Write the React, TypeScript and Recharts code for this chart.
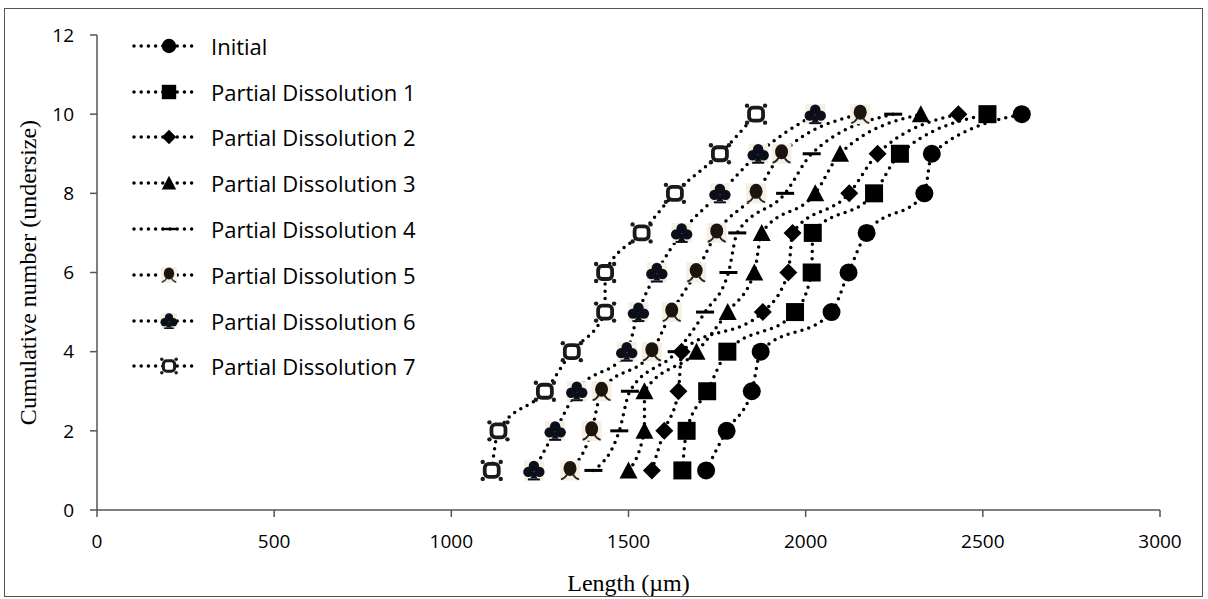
import { LineChart, Line, XAxis, YAxis } from 'recharts';

// cumulative number (undersize) – same for every run
const counts = [1, 2, 3, 4, 5, 6, 7, 8, 9, 10];

// crystal length (µm), one array per run
const initial = [1719, 1777, 1848, 1873, 2073, 2121, 2172, 2335, 2356, 2610];
const partial1 = [1652, 1664, 1722, 1779, 1970, 2017, 2020, 2193, 2266, 2513];
const partial2 = [1566, 1601, 1641, 1650, 1879, 1951, 1963, 2123, 2203, 2431];
const partial3 = [1500, 1545, 1545, 1692, 1780, 1855, 1876, 2027, 2097, 2325];
const partial4 = [1401, 1474, 1504, 1636, 1716, 1782, 1807, 1942, 2017, 2247];
const partial5 = [1335, 1396, 1424, 1566, 1622, 1691, 1749, 1860, 1932, 2154];
const partial6 = [1233, 1293, 1354, 1495, 1528, 1580, 1650, 1758, 1866, 2027];
const partial7 = [1114, 1133, 1264, 1340, 1434, 1434, 1537, 1631, 1758, 1860];

const xTicks = [0, 500, 1000, 1500, 2000, 2500, 3000];
const yTicks = [0, 2, 4, 6, 8, 10, 12];

type Kind = 'circle' | 'square' | 'diamond' | 'triangle' | 'dash' | 'person' | 'club' | 'curr';

const series: { name: string; kind: Kind; values: number[] }[] = [
  { name: 'Initial', kind: 'circle', values: initial },
  { name: 'Partial Dissolution 1', kind: 'square', values: partial1 },
  { name: 'Partial Dissolution 2', kind: 'diamond', values: partial2 },
  { name: 'Partial Dissolution 3', kind: 'triangle', values: partial3 },
  { name: 'Partial Dissolution 4', kind: 'dash', values: partial4 },
  { name: 'Partial Dissolution 5', kind: 'person', values: partial5 },
  { name: 'Partial Dissolution 6', kind: 'club', values: partial6 },
  { name: 'Partial Dissolution 7', kind: 'curr', values: partial7 },
];

const toPoints = (vals: number[]) => vals.map((v, i) => ({ x: v, y: counts[i] }));

function Marker({ kind, cx, cy, s = 1 }: { kind: Kind; cx: number; cy: number; s?: number }) {
  const k = s;
  switch (kind) {
    case 'circle':
      return <circle cx={cx} cy={cy} r={9 * k} fill="#000" />;
    case 'square':
      return <rect x={cx - 9 * k} y={cy - 9 * k} width={18 * k} height={18 * k} fill="#000" />;
    case 'diamond':
      return (
        <path
          d={`M${cx},${cy - 9 * k} L${cx + 9 * k},${cy} L${cx},${cy + 9 * k} L${cx - 9 * k},${cy} Z`}
          fill="#000"
        />
      );
    case 'triangle':
      return (
        <path
          d={`M${cx},${cy - 9 * k} L${cx + 9 * k},${cy + 8 * k} L${cx - 9 * k},${cy + 8 * k} Z`}
          fill="#000"
        />
      );
    case 'dash':
      return <rect x={cx - 9 * k} y={cy - 1.5 * k} width={18 * k} height={3 * k} fill="#000" />;
    case 'person':
      return (
        <g style={{ filter: 'blur(0.6px)' }}>
          <rect x={cx - 10 * k} y={cy - 10 * k} width={20 * k} height={20 * k} fill="#f6efe4" />
          <ellipse cx={cx} cy={cy - 2 * k} rx={6.5 * k} ry={7.5 * k} fill="#1c140e" />
          <path
            d={`M${cx - 3 * k},${cy + 4 * k} Q${cx - 5 * k},${cy + 8 * k} ${cx - 9 * k},${cy + 9 * k} M${cx + 3 * k},${cy + 4 * k} Q${cx + 5 * k},${cy + 8 * k} ${cx + 9 * k},${cy + 9 * k}`}
            stroke="#2a2420"
            strokeWidth={1.8 * k}
            fill="none"
          />
        </g>
      );
    case 'club':
      return (
        <g style={{ filter: 'blur(0.5px)' }}>
          <rect x={cx - 10 * k} y={cy - 10 * k} width={20 * k} height={20 * k} fill="#f6efe4" />
          <circle cx={cx} cy={cy - 4.5 * k} r={5.2 * k} fill="#0b0f1a" />
          <circle cx={cx - 5.5 * k} cy={cy + 1.5 * k} r={5.2 * k} fill="#0b0f1a" />
          <circle cx={cx + 5.5 * k} cy={cy + 1.5 * k} r={5.2 * k} fill="#0b0f1a" />
          <path d={`M${cx},${cy} L${cx + 3.5 * k},${cy + 8 * k} L${cx - 3.5 * k},${cy + 8 * k} Z`} fill="#0b0f1a" />
          <rect x={cx - 6 * k} y={cy + 8 * k} width={12 * k} height={2 * k} fill="#0b0f1a" />
        </g>
      );
    case 'curr':
      return (
        <g style={{ filter: 'blur(0.7px)' }}>
          <rect x={cx - 7 * k} y={cy - 6.5 * k} width={14 * k} height={13 * k} rx={4 * k} fill="#fff" stroke="#1a1a1a" strokeWidth={3.8 * k} />
          <circle cx={cx - 9 * k} cy={cy - 8.5 * k} r={2.2 * k} fill="#1a1a1a" />
          <circle cx={cx + 9 * k} cy={cy - 8.5 * k} r={2.2 * k} fill="#1a1a1a" />
          <circle cx={cx - 9 * k} cy={cy + 8.5 * k} r={2.2 * k} fill="#1a1a1a" />
          <circle cx={cx + 9 * k} cy={cy + 8.5 * k} r={2.2 * k} fill="#1a1a1a" />
        </g>
      );
  }
  return null;
}

const tickFont = { fontFamily: 'Open Sans', fontSize: 19, fill: '#000' };

function LegendBox() {
  return (
    <div style={{ position: 'absolute', left: 132, top: 23, width: 330 }}>
      {series.map((s) => (
        <div key={s.name} style={{ display: 'flex', alignItems: 'center', height: 45.8 }}>
          <svg width={64} height={24} style={{ overflow: 'visible' }}>
            <line x1={2} y1={12} x2={62} y2={12} stroke="#000" strokeWidth={3.5} strokeLinecap="round" strokeDasharray="0 7.2" />
            <Marker kind={s.kind} cx={37} cy={12} s={0.8} />
          </svg>
          <span style={{ fontFamily: 'Open Sans', fontSize: 22, marginLeft: 15, color: '#000', whiteSpace: 'nowrap' }}>
            {s.name}
          </span>
        </div>
      ))}
    </div>
  );
}

export default function App() {
  return (
    <div style={{ position: 'absolute', left: 0, top: 0, width: 1208, height: 599, background: '#fff' }}>
      <div
        style={{
          position: 'absolute',
          left: 4,
          top: 8,
          width: 1197,
          height: 587,
          border: '1.5px solid #555',
        }}
      />
      <LineChart width={1208} height={599} margin={{ top: 35, right: 48, left: 0, bottom: 0 }}>
        <XAxis
          type="number"
          dataKey="x"
          domain={[0, 3000]}
          ticks={xTicks}
          allowDataOverflow
          height={89}
          stroke="#555"
          strokeWidth={1.5}
          tickSize={7}
          tickMargin={18}
          tick={tickFont}
          label={{
            value: 'Length (µm)',
            position: 'insideBottom',
            offset: 8,
            style: { fontFamily: 'Liberation Serif', fontSize: 24, fill: '#000' },
          }}
        />
        <YAxis
          type="number"
          dataKey="y"
          domain={[0, 12]}
          ticks={yTicks}
          width={97}
          stroke="#555"
          strokeWidth={1.5}
          tickSize={7}
          tickMargin={16}
          tick={tickFont}
          label={{
            value: 'Cumulative number (undersize)',
            angle: -90,
            position: 'insideLeft',
            offset: 27,
            style: { textAnchor: 'middle', fontFamily: 'Liberation Serif', fontSize: 24, fill: '#000' },
          }}
        />
        {series.map((s) => (
          <Line
            key={s.name}
            name={s.name}
            data={toPoints(s.values)}
            dataKey="y"
            type="monotone"
            stroke="#000"
            strokeWidth={3.5}
            strokeLinecap="round"
            strokeDasharray="0 7.2"
            isAnimationActive={false}
            dot={(p: any) => <Marker key={`${s.kind}-${p.index}`} kind={s.kind} cx={p.cx} cy={p.cy} />}
            activeDot={false}
          />
        ))}
      </LineChart>
      <LegendBox />
    </div>
  );
}
